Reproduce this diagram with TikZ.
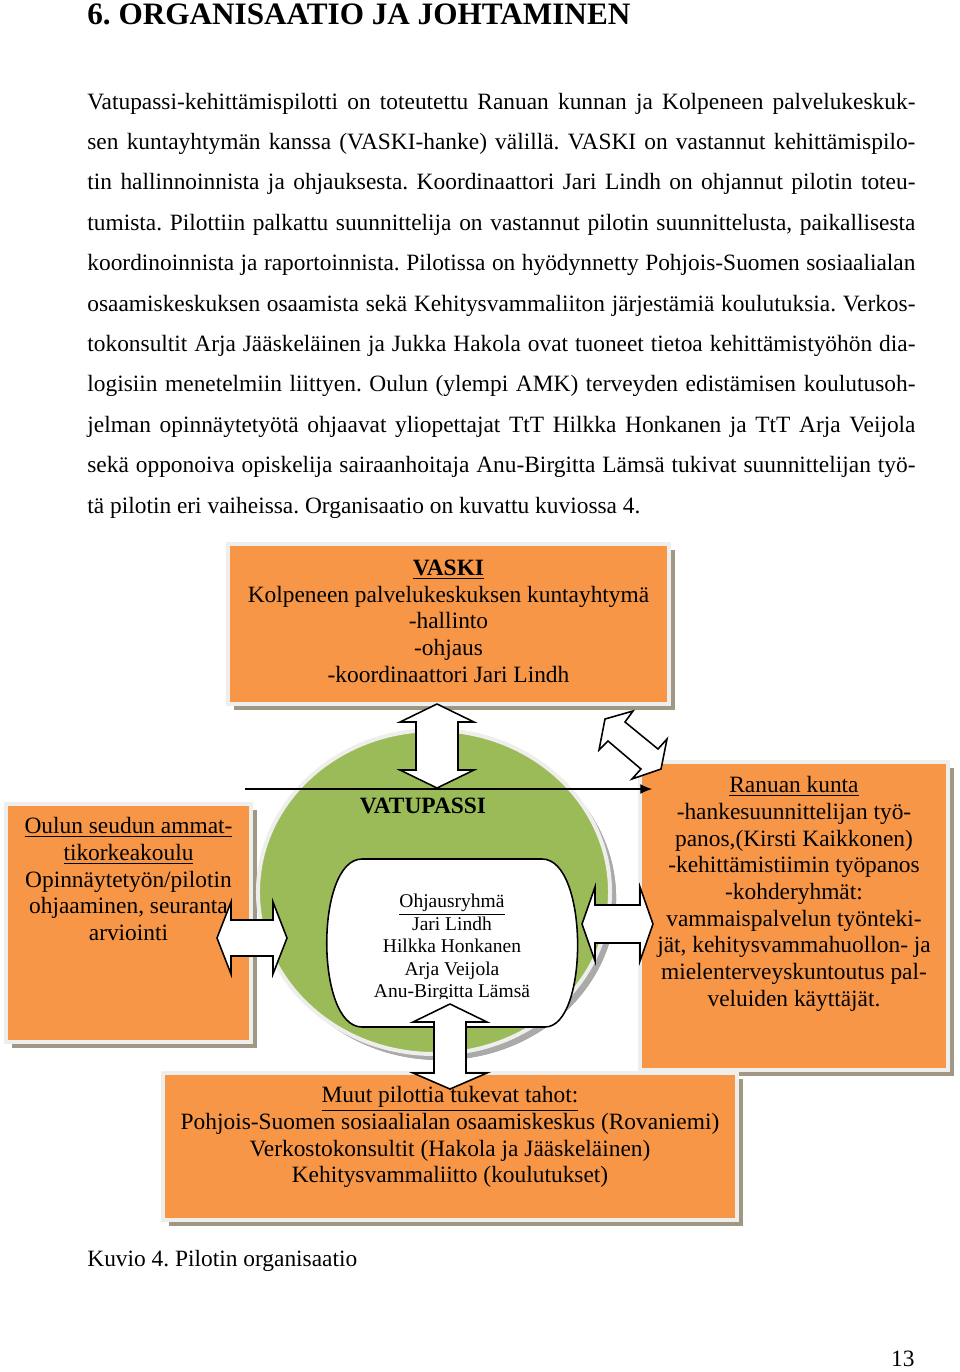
\documentclass[tikz,border=0pt]{standalone}
\usepackage{fontspec}
\setmainfont{Liberation Serif}
\usetikzlibrary{positioning,shapes.geometric,shadows,arrows.meta}
\frenchspacing

\definecolor{boxorange}{RGB}{247,150,70}
\definecolor{ballgreen}{RGB}{155,187,89}
\definecolor{rimgray}{RGB}{238,238,236}
\definecolor{shadowtan}{RGB}{160,152,132}
\definecolor{shadowgray}{RGB}{170,170,168}

\tikzset{
  orgbox/.style={rectangle,fill=boxorange,draw=rimgray,line width=2.05pt,
    inner sep=0pt,outer sep=0pt,
    drop shadow={shadow xshift=3.1pt,shadow yshift=-3.1pt,fill=shadowtan,opacity=1}},
  boxtext/.style={align=center,inner sep=0pt,font=\fontsize{12}{13.7}\selectfont},
  pagetext/.style={anchor=base west,inner sep=0pt,font=\fontsize{12}{14}\selectfont},
  blockarrow/.style={draw=black,fill=white,line width=0.8pt,line join=miter}
}

\begin{document}
\begin{tikzpicture}[x=0.513pt,y=-0.513pt]
\fill[white] (0,0) rectangle (960,1372);
\useasboundingbox (0,0) rectangle (960,1372);

% heading and paragraph
\node[anchor=base west,inner sep=0pt,font=\fontsize{16}{19}\selectfont\bfseries] (heading) at (87,24)
  {6. ORGANISAATIO JA JOHTAMINEN};
\foreach \txt [count=\i] in {
  {Vatupassi-kehittämispilotti on toteutettu Ranuan kunnan ja Kolpeneen palvelukeskuk-},
  {sen kuntayhtymän kanssa (VASKI-hanke) välillä. VASKI on vastannut kehittämispilo-},
  {tin hallinnoinnista ja ohjauksesta. Koordinaattori Jari Lindh on ohjannut pilotin toteu-},
  {tumista. Pilottiin palkattu suunnittelija on vastannut pilotin suunnittelusta, paikallisesta},
  {koordinoinnista ja raportoinnista. Pilotissa on hyödynnetty Pohjois-Suomen sosiaalialan},
  {osaamiskeskuksen osaamista sekä Kehitysvammaliiton järjestämiä koulutuksia. Verkos-},
  {tokonsultit Arja Jääskeläinen ja Jukka Hakola ovat tuoneet tietoa kehittämistyöhön dia-},
  {logisiin menetelmiin liittyen. Oulun (ylempi AMK) terveyden edistämisen koulutusoh-},
  {jelman opinnäytetyötä ohjaavat yliopettajat TtT Hilkka Honkanen ja TtT Arja Veijola},
  {sekä opponoiva opiskelija sairaanhoitaja Anu-Birgitta Lämsä tukivat suunnittelijan työ-}}
  \node[pagetext] (line\i) at (87,{109+40.4*(\i-1)}) {\makebox[424.8pt][s]{\txt}};
\node[pagetext] (line11) at (87,513) {tä pilotin eri vaiheissa. Organisaatio on kuvattu kuviossa 4.};

% boxes
\node[orgbox,minimum width=226.2pt,minimum height=82.1pt] (vaski) at (448.5,624) {};
\node[orgbox,minimum width=125.7pt,minimum height=122.1pt] (oamk) at (128.5,923) {};
\node[orgbox,minimum width=158pt,minimum height=158pt] (ranua) at (794,916) {};
\node[orgbox,minimum width=294.5pt,minimum height=75.4pt] (muut) at (450,1146.5) {};
\node[orgbox,ellipse,fill=ballgreen,minimum width=180.6pt,minimum height=166.2pt,
  drop shadow={shadow xshift=3.1pt,shadow yshift=-3.1pt,fill=shadowgray,opacity=1}] (vatupassi) at (434,892) {};

% steering group
\draw[fill=white,line width=0.8pt] (362,859) -- (542,859)
  .. controls (589,859) and (589,1027) .. (545,1027) -- (362,1027)
  .. controls (315,1027) and (315,859) .. cycle;
\begin{scope}
  \clip (300,850) rectangle (600,998);
  \node[boxtext,anchor=north,font=\fontsize{10}{11.5}\selectfont] (ohjaus) at (452,894)
    {\underline{Ohjausryhmä}\\Jari Lindh\\Hilkka Honkanen\\Arja Veijola\\Anu-Birgitta Lämsä};
\end{scope}
\node[anchor=base,inner sep=0pt,font=\fontsize{12}{14}\selectfont\bfseries] (vatuname) at (423,813) {VATUPASSI};

% block arrows
\draw[blockarrow] (437,704) -- (474,722) -- (458,722) -- (458,770) -- (474,770) -- (437,788)
  -- (400,770) -- (416,770) -- (416,722) -- (400,722) -- cycle;
\draw[blockarrow] (217,938) -- (231,902) -- (231,920) -- (273,920) -- (273,902) -- (287,938)
  -- (273,974) -- (273,956) -- (231,956) -- (231,974) -- cycle;
\draw[blockarrow] (582,924) -- (595,887) -- (595,905) -- (640,905) -- (640,887) -- (653,924)
  -- (640,961) -- (640,943) -- (595,943) -- (595,961) -- cycle;
\draw[blockarrow] (450,1004) -- (487,1022) -- (466,1022) -- (466,1073) -- (487,1073) -- (450,1089)
  -- (413,1073) -- (434,1073) -- (434,1022) -- (413,1022) -- cycle;
\draw[blockarrow] (605,719) -- (633,711) -- (625,722) -- (658,749) -- (667,739) -- (661,769)
  -- (632,779) -- (641,769) -- (608,741) -- (599,750) -- cycle;

% box texts
\node[boxtext,below=7.95pt of vaski.north] (vaskitext)
  {\textbf{\underline{VASKI}}\\Kolpeneen palvelukeskuksen kuntayhtymä\\-hallinto\\-ohjaus\\-koordinaattori Jari Lindh};
\node[boxtext,below=6.7pt of oamk.north] (oamktext)
  {\underline{Oulun seudun ammat-}\\\underline{tikorkeakoulu}\\Opinnäytetyön/pilotin\\ohjaaminen, seuranta\\arviointi};
\node[boxtext,below=7.2pt of ranua.north] (ranuatext)
  {\underline{Ranuan kunta}\\-hankesuunnittelijan työ-\\panos,(Kirsti Kaikkonen)\\-kehittämistiimin työpanos\\-kohderyhmät:\\vammaispalvelun työnteki-\\jät, kehitysvammahuollon- ja\\mielenterveyskuntoutus pal-\\veluiden käyttäjät.};
\node[boxtext,below=6.7pt of muut.north] (muuttext)
  {\underline{Muut pilottia tukevat tahot:}\\Pohjois-Suomen sosiaalialan osaamiskeskus (Rovaniemi)\\Verkostokonsultit (Hakola ja Jääskeläinen)\\Kehitysvammaliitto (koulutukset)};

% line to Ranua
\coordinate (linestart) at (245,789);
\draw[-{Latex[length=6pt,width=5pt]},line width=0.6pt] (linestart) -- ([xshift=6.2pt]linestart -| ranua.west);

% caption and page number
\node[pagetext] (caption) at (87,1266) {Kuvio 4. Pilotin organisaatio};
\node[pagetext,anchor=base east] (pagenum) at (915,1366) {13};
\end{tikzpicture}
\end{document}
